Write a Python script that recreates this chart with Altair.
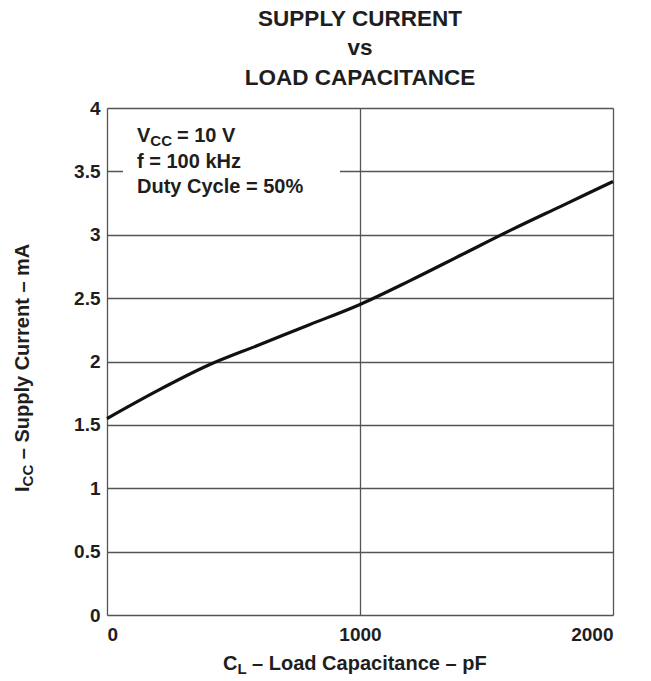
import altair as alt
import pandas as pd

# ---- data ----
cap_pf = [0, 200, 400, 600, 800, 1000, 1200, 1400, 1600, 1800, 2000]
icc_ma = [1.55, 1.77, 1.97, 2.13, 2.29, 2.45, 2.64, 2.84, 3.04, 3.23, 3.42]

x_ticks = [0, 1000, 2000]
y_ticks = [0, 0.5, 1, 1.5, 2, 2.5, 3, 3.5, 4]
x_domain = [0, 2000]
y_domain = [0, 4]

# white box behind the conditions note (data units)
note_box_x = [63, 921]
note_box_y = [3.2, 3.97]

title_lines = ["SUPPLY CURRENT", "vs", "LOAD CAPACITANCE"]

FONT = "Liberation Sans"
INK = "#1e1e1e"

df = pd.DataFrame({"cap": cap_pf, "icc": icc_ma})

x_scale = alt.Scale(domain=x_domain, nice=False, zero=False)
y_scale = alt.Scale(domain=y_domain, nice=False, zero=False)

curve = alt.Chart(df).mark_line(
    color="#111111", strokeWidth=3.2, interpolate="monotone"
).encode(
    x=alt.X("cap:Q", scale=x_scale,
            axis=alt.Axis(values=x_ticks, format="d", title=None, grid=True,
                          gridColor="#555555", gridWidth=1.3, domain=False,
                          ticks=False, labelPadding=10, labelFlush=True,
                          labelFont=FONT, labelFontWeight="bold",
                          labelFontSize=19, labelColor=INK)),
    y=alt.Y("icc:Q", scale=y_scale,
            axis=alt.Axis(values=y_ticks, format="~g", title=None, grid=True,
                          gridColor="#555555", gridWidth=1.3, domain=False,
                          ticks=False, labelPadding=7,
                          labelFont=FONT, labelFontWeight="bold",
                          labelFontSize=19, labelColor=INK)),
)

box = alt.Chart(pd.DataFrame({"x0": [note_box_x[0]], "x1": [note_box_x[1]],
                              "y0": [note_box_y[0]], "y1": [note_box_y[1]]})).mark_rect(
    color="white", opacity=1
).encode(
    x=alt.X("x0:Q", scale=x_scale), x2="x1",
    y=alt.Y("y0:Q", scale=y_scale), y2="y1",
)


def label(text, x, y, size, angle=0):
    return alt.Chart(pd.DataFrame({"t": [text]})).mark_text(
        align="left", baseline="alphabetic", font=FONT, fontWeight="bold",
        fontSize=size, angle=angle, color=INK
    ).encode(x=alt.value(x), y=alt.value(y), text="t:N")


BIG = 20
SUB = 15
GAP = 5.5

# conditions note
note = [
    label("V", 30, 34, BIG),
    label("CC", 30 + 0.667 * BIG, 38, SUB),
    label("= 10 V", 30 + 0.667 * BIG + 1.444 * SUB + 5, 34, BIG),
    label("f = 100 kHz", 30, 60, BIG),
    label("Duty Cycle = 50%", 30, 85, BIG),
]

# x axis title
xt = [
    label("C", 116, 562, BIG),
    label("L", 116 + 0.722 * BIG, 566, SUB),
    label("– Load Capacitance – pF", 116 + 0.722 * BIG + 0.611 * SUB + GAP, 562, BIG),
]

# y axis title (rotated)
yt = [
    label("I", -78, 384, BIG, angle=270),
    label("CC", -74, 384 - 0.278 * BIG, SUB, angle=270),
    label("– Supply Current – mA", -78, 384 - 0.278 * BIG - 1.444 * SUB - GAP, BIG, angle=270),
]

chart = alt.layer(box, curve, *note, *xt, *yt).properties(
    width=506,
    height=507,
    padding={"left": 99, "top": 100, "right": 30, "bottom": 66},
    autosize=alt.AutoSizeParams(type="none"),
    title=alt.TitleParams(text=title_lines, font=FONT, fontWeight="bold",
                          fontSize=22.5, lineHeight=29.5, color=INK,
                          anchor="middle", baseline="bottom", offset=28, dy=41),
).configure_view(
    stroke="#1a1a1a", strokeWidth=2.2
).configure(background="white")

chart.save("out.html", embed_options={"renderer": "svg", "actions": False})
